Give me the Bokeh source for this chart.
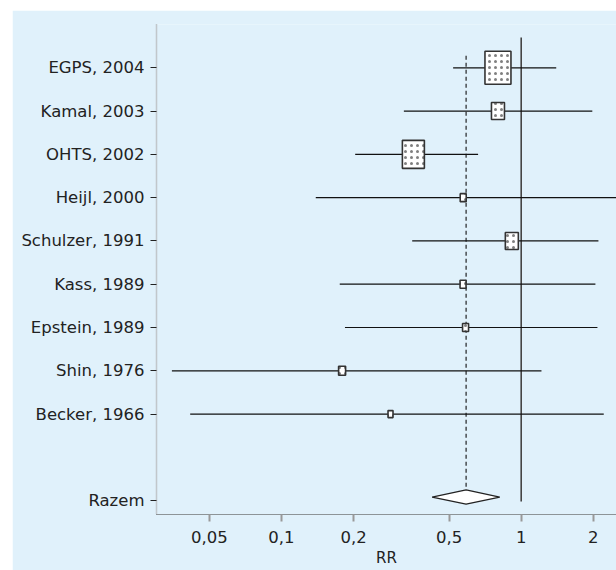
from bokeh.plotting import figure
from bokeh.models import Range1d, FixedTicker, ColumnDataSource, Spacer
from bokeh.layouts import column, row
from bokeh.embed import file_html
from bokeh.resources import INLINE

# ---- data ----
studies = ["EGPS, 2004", "Kamal, 2003", "OHTS, 2002", "Heijl, 2000", "Schulzer, 1991",
           "Kass, 1989", "Epstein, 1989", "Shin, 1976", "Becker, 1966"]
rr = [0.80, 0.80, 0.355, 0.573, 0.914, 0.572, 0.586, 0.179, 0.285]
ci_low = [0.52, 0.324, 0.203, 0.139, 0.351, 0.175, 0.184, 0.0349, 0.0416]
ci_high = [1.40, 1.98, 0.661, 3.0, 2.10, 2.04, 2.08, 1.215, 2.21]
weights = [26, 13, 22, 6, 13, 6, 6, 7, 5]
pooled_label = "Razem"
pooled_rr = 0.589
pooled_low = 0.425
pooled_high = 0.814
x_ticks = [0.05, 0.1, 0.2, 0.5, 1, 2]
x_tick_labels = ["0,05", "0,1", "0,2", "0,5", "1", "2"]

BLUE = "#e0f1fb"
FONT = "DejaVu Sans"

ypos = list(range(1, len(studies) + 1))
pooled_y = len(studies) + 2

p = figure(width=604, height=560, x_axis_type="log",
           x_range=Range1d(0.0301, 2.498), y_range=Range1d(11.32, 0),
           output_backend="svg", toolbar_location=None,
           min_border_left=144, min_border_right=0, min_border_top=14, min_border_bottom=56)
p.background_fill_color = BLUE
p.border_fill_color = BLUE
p.outline_line_color = None
p.xgrid.visible = False
p.ygrid.visible = False

# reference lines
p.segment(x0=[1], x1=[1], y0=[0.3], y1=[pooled_y + 0.02], line_color="#444444", line_width=1.6)
p.segment(x0=[pooled_rr], x1=[pooled_rr], y0=[0.72], y1=[pooled_y - 0.25],
          line_color="#111111", line_width=1.1, line_dash="4 3")

# CI lines
src = ColumnDataSource(dict(
    y=ypos, rr=rr, lo=ci_low, hi=ci_high,
    w=weights, h=[max(7, round(1.27 * w)) for w in weights]))
p.segment(x0="lo", x1="hi", y0="y", y1="y", source=src, line_color="#111111", line_width=1.2)
p.rect(x="rr", y="y", width="w", height="h", width_units="screen", height_units="screen",
       source=src, fill_color="white", line_color="#333333", line_width=1.6,
       hatch_pattern=".", hatch_color="#808080", hatch_scale=6, hatch_weight=0.8)

# pooled diamond
p.patch(x=[pooled_low, pooled_rr, pooled_high, pooled_rr],
        y=[pooled_y - 0.08, pooled_y - 0.25, pooled_y - 0.08, pooled_y + 0.08],
        fill_color="white", line_color="#222222", line_width=1.2)

# axes
yax = p.yaxis[0]
yax.ticker = FixedTicker(ticks=ypos + [pooled_y])
labels = {y: s for y, s in zip(ypos, studies)}
labels[pooled_y] = pooled_label
yax.major_label_overrides = labels
yax.axis_line_color = "#999999"
yax.axis_line_width = 1.5
yax.axis_line_dash = "1 1"
yax.major_tick_line_color = "#222222"
yax.major_tick_out = 6
yax.major_tick_in = 0
yax.minor_tick_line_color = None
yax.major_label_text_font = FONT
yax.major_label_text_font_size = "16.5px"
yax.major_label_text_color = "#222222"
yax.major_label_standoff = 6

xax = p.xaxis[0]
xax.ticker = FixedTicker(ticks=x_ticks)
xax.major_label_overrides = {t: l for t, l in zip(x_ticks, x_tick_labels)}
xax.axis_line_color = "#333333"
xax.axis_line_width = 1.2
xax.axis_line_dash = "1 1"
xax.major_tick_line_color = "#999999"
xax.major_tick_line_width = 2
xax.major_tick_out = 7
xax.major_tick_in = 0
xax.minor_tick_line_color = None
xax.major_label_text_font = FONT
xax.major_label_text_font_size = "16.5px"
xax.major_label_text_color = "#222222"
xax.major_label_standoff = 9
xax.axis_label = "RR"
xax.axis_label_text_font = FONT
xax.axis_label_text_font_size = "15px"
xax.axis_label_text_font_style = "normal"
xax.axis_label_text_color = "#222222"
xax.axis_label_standoff = 3

layout = column(Spacer(height=10), row(Spacer(width=12), p))
open("out.html", "w").write(file_html(layout, INLINE))
